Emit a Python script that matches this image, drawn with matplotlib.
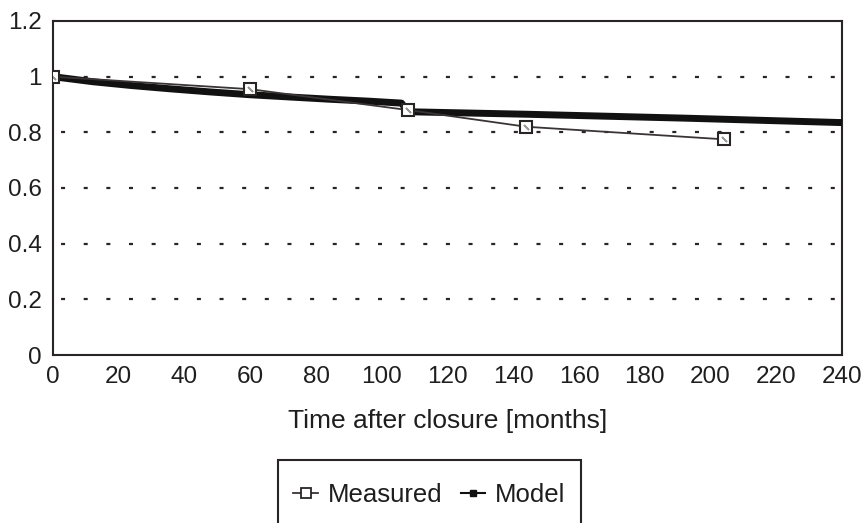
import matplotlib
matplotlib.use("Agg")
import matplotlib.pyplot as plt
from matplotlib.patches import Rectangle

plt.rcParams['font.family'] = ['Liberation Sans', 'DejaVu Sans']

# Measured relative values
measured_t = [0, 60, 108, 144, 204]
measured_v = [1.0, 0.955, 0.88, 0.82, 0.775]

# Model curve
model_t = [0, 12, 24, 36, 48, 60, 72, 84, 96, 106, 108, 120, 144, 168, 192, 216, 240]
model_v = [1.0, 0.982, 0.968, 0.956, 0.945, 0.935, 0.927, 0.919, 0.912, 0.905,
           0.874, 0.871, 0.865, 0.858, 0.851, 0.843, 0.835]

x_ticks = list(range(0, 241, 20))
y_ticks = [0, 0.2, 0.4, 0.6, 0.8, 1.0, 1.2]
y_tick_labels = ["0", "0.2", "0.4", "0.6", "0.8", "1", "1.2"]

ink = "#2a2525"
text_c = "#1e1e1e"
W, H = 867, 523

fig = plt.figure(figsize=(W / 100, H / 100), dpi=100)
ax = fig.add_axes([53 / W, 1 - 355 / H, 789 / W, 334 / H])

# dotted horizontal grid (short dashes)
grid_lw = 1.6
for y in y_ticks[1:-1]:
    ax.axhline(y, color=ink, lw=grid_lw,
               linestyle=(10.5 / grid_lw, (2.9 / grid_lw, 13.4 / grid_lw)), zorder=1)

ax.plot(model_t, model_v, color="#111111", lw=5, solid_capstyle="butt", zorder=3)
ax.plot(measured_t, measured_v, color="#3a3535", lw=1.3, marker="s",
        markersize=9, markerfacecolor="white", markeredgecolor=ink,
        markeredgewidth=1.5, zorder=4)
ax.plot(measured_t, measured_v, linestyle="none", marker=(2, 2, 45), markersize=5,
        markeredgecolor="#9a9a9a", markeredgewidth=1.2, zorder=5)

ax.set_xlim(0, 240)
ax.set_ylim(0, 1.2)
ax.set_xticks(x_ticks)
ax.set_yticks(y_ticks)
ax.set_yticklabels(y_tick_labels)
ax.tick_params(axis="both", length=0, labelsize=17.5, colors=text_c)
ax.tick_params(axis="x", pad=8)
ax.tick_params(axis="y", pad=8)
for s in ax.spines.values():
    s.set_color(ink)
    s.set_linewidth(1.5)

ax.set_xlabel("Time after closure [months]", fontsize=19, color=text_c, labelpad=15)

# legend handles: measured marker and small model marker
h_meas = plt.Line2D([], [], color="#3a3535", lw=1.3, marker="s", markersize=7,
                    markerfacecolor="white", markeredgecolor=ink, markeredgewidth=1.3)
h_model = plt.Line2D([], [], color="#111111", lw=1.5, marker="s", markersize=4)
leg = fig.legend([h_meas, h_model], ["Measured", "Model"], ncol=2,
                 loc="center", bbox_to_anchor=(429.5 / W, 1 - 495 / H),
                 fontsize=18.5, frameon=False, handlelength=0.95,
                 handletextpad=0.4, columnspacing=0.7, borderpad=0,
                 borderaxespad=0)
for t in leg.get_texts():
    t.set_color(text_c)

# legend frame running off the bottom edge
fig.patches.append(Rectangle((278 / W, -0.05), (581 - 278) / W, 0.05 + (H - 460) / H,
                             transform=fig.transFigure, fill=False,
                             edgecolor=ink, linewidth=1.5))

fig.savefig("out.png", dpi=100)
